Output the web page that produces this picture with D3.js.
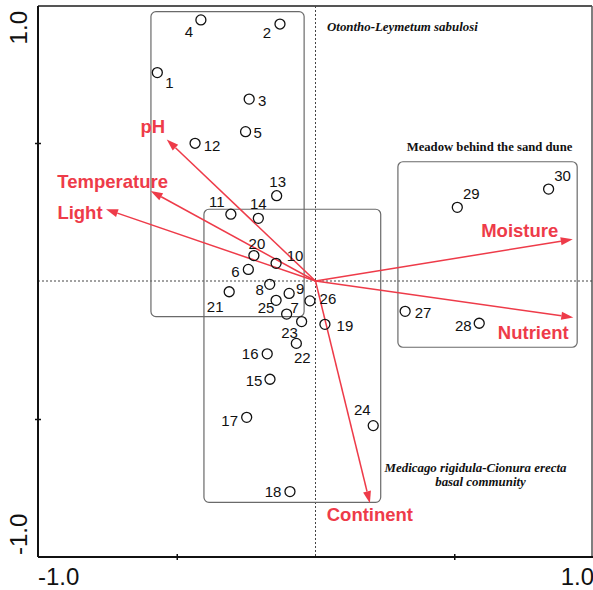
<!DOCTYPE html>
<html><head><meta charset="utf-8">
<script src="https://cdn.jsdelivr.net/npm/d3@7"></script>
<style>body{margin:0;background:#fff}svg{display:block}</style>
</head><body>
<script>
// ---- data ----
const siteIds = [1,2,3,4,5,6,7,8,9,10,11,12,13,14,15,16,17,18,19,20,21,22,23,24,25,26,27,28,29,30];
const siteX = [-0.570,-0.128,-0.239,-0.413,-0.252,-0.242,-0.104,-0.165,-0.095,-0.142,-0.305,-0.434,-0.140,-0.206,-0.164,-0.174,-0.248,-0.092,0.034,-0.222,-0.311,-0.069,-0.050,0.208,-0.142,-0.020,0.323,0.590,0.511,0.840];
const siteY = [0.755,0.931,0.659,0.946,0.541,0.042,-0.120,-0.012,-0.045,0.064,0.242,0.499,0.309,0.227,-0.356,-0.264,-0.494,-0.763,-0.157,0.092,-0.039,-0.226,-0.147,-0.524,-0.070,-0.072,-0.110,-0.153,0.267,0.333];
const envNames = ["pH","Temperature","Light","Moisture","Nutrient","Continent"];
const envX = [-0.536,-0.594,-0.755,0.927,0.929,0.196];
const envY = [0.513,0.326,0.260,0.151,-0.132,-0.805];
const groupNames = ["Otontho-Leymetum sabulosi","Medicago rigidula-Cionura erecta basal community","Meadow behind the sand dune"];
const groupX0 = [-0.593,-0.402,0.297];
const groupX1 = [-0.041,0.235,0.943];
const groupY0 = [0.976,0.260,0.432];
const groupY1 = [-0.129,-0.802,-0.240];
const tickValues = [-1,-0.5,0,0.5,1];
const tickLabels = ["-1.0","1.0"];

// ---- layout / style ----
const W = 593, H = 590;
const x = d3.scaleLinear().domain([-1,1]).range([38,593]);
const y = d3.scaleLinear().domain([-1,1]).range([557,5]);
const RED = "#ee3b49";
const svg = d3.select("body").append("svg").attr("width",W).attr("height",H);

// frame top/right
svg.append("line").attr("x1",x(-1)).attr("x2",592).attr("y1",6).attr("y2",6).attr("stroke","#555").attr("stroke-width",2);
svg.append("line").attr("x1",592).attr("x2",592).attr("y1",6).attr("y2",y(-1)).attr("stroke","#555").attr("stroke-width",1.5);

// dotted zero lines
svg.append("line").attr("x1",x(0)).attr("x2",x(0)).attr("y1",6).attr("y2",y(-1))
  .attr("stroke","#444").attr("stroke-width",1).attr("stroke-dasharray","2,2");
svg.append("line").attr("x1",x(-1)).attr("x2",592).attr("y1",y(0)).attr("y2",y(0))
  .attr("stroke","#444").attr("stroke-width",1).attr("stroke-dasharray","2,2");

// axes
const xAxis = d3.axisBottom(x).tickValues([-0.5,0.5]).tickSize(4).tickFormat("");
const gx = svg.append("g").attr("transform",`translate(0,${y(-1)})`).call(xAxis);
gx.select(".domain").attr("stroke","#111").attr("stroke-width",2).attr("d",`M${x(-1)},0H${x(1)}`);
gx.selectAll(".tick line").attr("y1",-3).attr("y2",3).attr("stroke","#111").attr("stroke-width",1.5);
const yAxis = d3.axisLeft(y).tickValues([-0.5,0.5]).tickSize(4).tickFormat("");
const gy = svg.append("g").attr("transform",`translate(${x(-1)},0)`).call(yAxis);
gy.select(".domain").attr("stroke","#111").attr("stroke-width",2).attr("d",`M0,6V${y(-1)}`);
gy.selectAll(".tick line").attr("x1",-3).attr("x2",3).attr("stroke","#111").attr("stroke-width",1.5);

const axFont = "Liberation Sans, Arial, sans-serif";
svg.append("text").attr("x",x(-1)).attr("y",585).attr("font-family",axFont).attr("font-size",24).attr("fill","#111").text(tickLabels[0]);
svg.append("text").attr("x",594).attr("y",585).attr("text-anchor","end").attr("font-family",axFont).attr("font-size",24).attr("fill","#111").text(tickLabels[1]);
svg.append("text").attr("transform",`translate(27,11) rotate(-90)`).attr("text-anchor","end").attr("font-family",axFont).attr("font-size",24).attr("fill","#111").text(tickLabels[1]);
svg.append("text").attr("transform",`translate(27,555) rotate(-90)`).attr("text-anchor","start").attr("font-family",axFont).attr("font-size",24).attr("fill","#111").text(tickLabels[0]);

// group boxes
groupNames.forEach((g,i)=>{
  svg.append("rect").attr("x",x(groupX0[i])).attr("y",y(groupY0[i]))
    .attr("width",x(groupX1[i])-x(groupX0[i])).attr("height",y(groupY1[i])-y(groupY0[i]))
    .attr("rx",5).attr("fill","none").attr("stroke","#6a6a6a").attr("stroke-width",1.2);
});
const serif = "Liberation Serif, Times New Roman, serif";
svg.append("text").attr("x",327).attr("y",31).attr("font-family",serif).attr("font-weight","bold").attr("font-style","italic").attr("font-size",12.9).attr("fill","#111").text(groupNames[0]);
svg.append("text").attr("x",475.5).attr("y",472).attr("text-anchor","middle").attr("font-family",serif).attr("font-weight","bold").attr("font-style","italic").attr("font-size",12.9).attr("fill","#111").text("Medicago rigidula-Cionura erecta");
svg.append("text").attr("x",480.5).attr("y",486).attr("text-anchor","middle").attr("font-family",serif).attr("font-weight","bold").attr("font-style","italic").attr("font-size",12.9).attr("fill","#111").text("basal community");
svg.append("text").attr("x",489.5).attr("y",150.5).attr("text-anchor","middle").attr("font-family",serif).attr("font-weight","bold").attr("font-size",12.7).attr("fill","#111").text(groupNames[2]);

// arrows
const envLabelOff = {pH:[-14,-13],Temperature:[-38,-10],Light:[-26,3],Moisture:[-53,-9],Nutrient:[-40,15],Continent:[0,11]};
envNames.forEach((n,i)=>{
  const x0 = x(0), y0 = y(0), x1 = x(envX[i]), y1 = y(envY[i]);
  const ang = Math.atan2(y1-y0,x1-x0), L = 12, Wd = 4;
  const bx = x1 - L*Math.cos(ang), by = y1 - L*Math.sin(ang);
  svg.append("line").attr("x1",x0).attr("y1",y0).attr("x2",bx).attr("y2",by).attr("stroke",RED).attr("stroke-width",1.5);
  const px = -Math.sin(ang)*Wd, py = Math.cos(ang)*Wd;
  svg.append("path").attr("d",`M${x1},${y1}L${bx+px},${by+py}L${bx-px},${by-py}Z`).attr("fill",RED);
  const o = envLabelOff[n];
  svg.append("text").attr("x",x1+o[0]).attr("y",y1+o[1]).attr("text-anchor","middle").attr("dominant-baseline","central")
    .attr("font-family",axFont).attr("font-weight","bold").attr("font-size",18.5).attr("fill",RED).text(n);
});

// sites
const siteLabelOff = {1:[12,10],2:[-13,8],3:[13,1],4:[-12,12],5:[12,1],6:[-13,2],7:[8,-7],8:[-10,5],9:[11,-5],10:[19,-8],
 11:[-14,-13],12:[17,2],13:[1,-14],14:[0,-15],15:[-16,1],16:[-17,0],17:[-17,3],18:[-17,0],19:[20,1],20:[3,-12],
 21:[-14,15],22:[6,14],23:[-12,11],24:[-11,-16],25:[-10,7],26:[18,-2],27:[18,1],28:[-16,2],29:[14,-14],30:[14,-14]};
siteIds.forEach((id,i)=>{
  const cx = x(siteX[i]), cy = y(siteY[i]);
  svg.append("circle").attr("cx",cx).attr("cy",cy).attr("r",5).attr("fill","none").attr("stroke","#111").attr("stroke-width",1.3);
  const o = siteLabelOff[id];
  svg.append("text").attr("x",cx+o[0]).attr("y",cy+o[1]).attr("text-anchor","middle").attr("dominant-baseline","central")
    .attr("font-family",axFont).attr("font-size",15).attr("fill","#111").text(id);
});
</script>
</body></html>
